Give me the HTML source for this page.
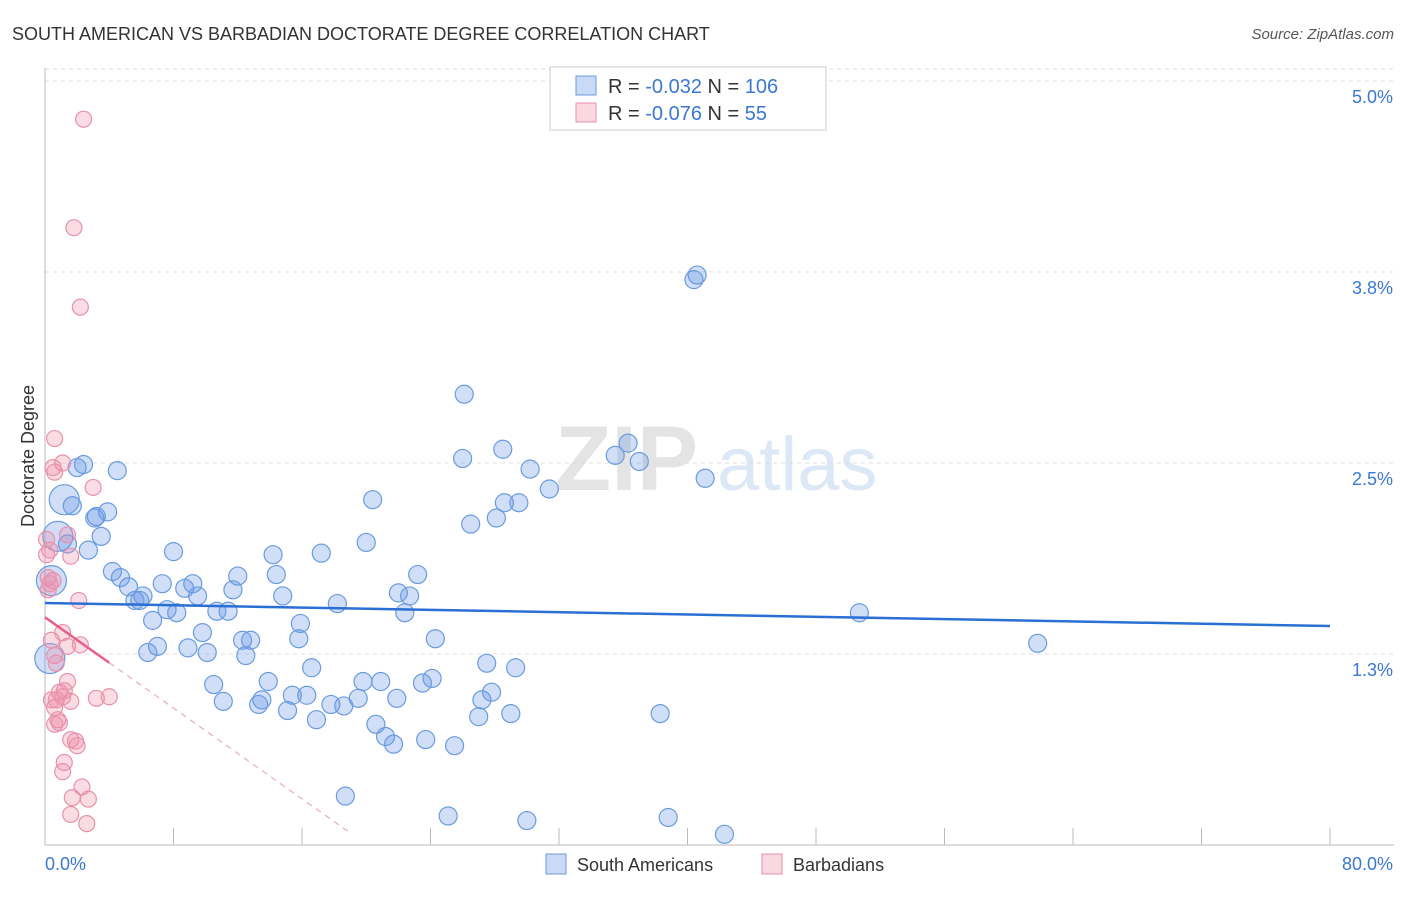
<!DOCTYPE html>
<html><head><meta charset="utf-8"><style>
body{margin:0;background:#fff;font-family:"Liberation Sans",sans-serif;}
svg text{font-family:"Liberation Sans",sans-serif;}
</style></head><body>
<svg id="chart" width="1406" height="892" xmlns="http://www.w3.org/2000/svg">
<text x="12" y="40" font-size="18" fill="#333">SOUTH AMERICAN VS BARBADIAN DOCTORATE DEGREE CORRELATION CHART</text>
<text x="1394" y="39" font-size="15" fill="#555" font-style="italic" text-anchor="end">Source: ZipAtlas.com</text>
<g>
<text x="555" y="490" font-size="92" fill="#e4e4e4" font-family="Liberation Serif" font-weight="bold">ZIP</text>
<text x="717" y="490" font-size="76" fill="#dce8f6">atlas</text>
</g>
<g id="grid"></g>
<g id="axes"></g>
<text transform="translate(34,456) rotate(-90)" font-size="18" fill="#333" text-anchor="middle">Doctorate Degree</text>
<g id="marks"></g>
<g id="trends"></g>
<g>
<rect x="550" y="67" width="276" height="63" fill="#fff" stroke="#ccc"/>
<rect x="576" y="76" width="20" height="19" fill="rgba(100,150,230,0.35)" stroke="#6a9be0"/>
<rect x="576" y="103" width="20" height="19" fill="rgba(240,140,170,0.35)" stroke="#e891ab"/>
<text x="608" y="93" font-size="20" fill="#333">R = <tspan fill="#3a78d4">-0.032</tspan>   N = <tspan fill="#3a78d4">106</tspan></text>
<text x="608" y="120" font-size="20" fill="#333">R = <tspan fill="#3a78d4">-0.076</tspan>   N =  <tspan fill="#3a78d4"> 55</tspan></text>
</g>
<g>
<rect x="546" y="854" width="20" height="20" fill="rgba(100,150,230,0.35)" stroke="#6a9be0"/>
<text x="577" y="871" font-size="18" fill="#333">South Americans</text>
<rect x="762" y="854" width="20" height="20" fill="rgba(240,140,170,0.35)" stroke="#e891ab"/>
<text x="793" y="871" font-size="18" fill="#333">Barbadians</text>
</g>
</svg>
<script>
const yTicks=[1.25,2.5,3.75,5.0];
const yTickLabels=["1.3%","2.5%","3.8%","5.0%"];
const xTicks=[0,8,16,24,32,40,48,56,64,72,80];
const blueX=[40.6,40.4,26.1,36.3,35.5,37.0,28.5,26.0,30.2,41.1,31.4,28.6,29.5,28.1,26.5,20.4,20.0,17.2,14.2,14.4,14.8,15.9,15.8,16.6,18.2,22.0,22.7,23.2,22.4,24.3,27.5,29.3,24.1,23.5,19.8,20.9,19.5,21.9,17.8,18.6,16.3,15.4,15.1,16.9,13.5,13.3,13.9,20.6,21.2,21.7,23.7,25.5,27.2,27.8,27.0,29.0,38.3,50.7,61.8,18.7,25.1,30.0,38.8,42.3,12.0,11.7,11.4,10.7,9.2,8.7,9.5,8.2,7.6,7.3,6.7,6.1,5.6,5.2,4.7,4.2,5.9,8.0,9.8,12.3,12.8,12.5,8.9,10.1,7.0,6.4,10.5,11.1,4.5,2.4,2.0,3.9,3.2,3.5,2.7,3.1,1.7,1.2,0.8,1.4,0.4,0.3];
const blueY=[3.73,3.70,2.95,2.63,2.55,2.51,2.59,2.53,2.46,2.40,2.33,2.24,2.24,2.14,2.10,2.26,1.98,1.91,1.90,1.77,1.63,1.45,1.35,1.16,1.58,1.65,1.63,1.77,1.52,1.35,1.19,1.16,1.09,1.06,1.07,1.07,0.96,0.96,0.92,0.91,0.98,0.98,0.88,0.82,0.95,0.92,1.07,0.79,0.71,0.66,0.69,0.65,0.95,1.00,0.84,0.86,0.86,1.52,1.32,0.32,0.19,0.16,0.18,0.07,1.76,1.67,1.53,1.53,1.71,1.68,1.63,1.52,1.54,1.71,1.47,1.63,1.60,1.69,1.75,1.79,1.60,1.92,1.39,1.34,1.34,1.24,1.29,1.26,1.30,1.26,1.05,0.94,2.45,2.49,2.47,2.18,2.15,2.02,1.93,2.14,2.22,2.26,2.02,1.97,1.73,1.22];
const blueBig=[101,102,104,105];
const pinkX=[2.4,1.8,2.2,0.6,1.1,0.5,0.6,3.0,1.4,1.6,0.1,0.3,0.3,0.5,0.2,2.1,1.1,0.4,1.4,2.2,0.6,0.7,1.4,1.2,0.9,1.1,0.7,1.6,3.2,4.0,0.6,0.8,0.6,1.6,1.9,2.0,1.2,1.1,2.3,1.7,2.7,1.6,2.6,0.1,0.2,0.4,0.9];
const pinkY=[4.75,4.04,3.52,2.66,2.50,2.47,2.44,2.34,2.03,1.89,2.00,1.93,1.71,1.73,1.75,1.60,1.39,1.34,1.30,1.31,1.24,1.19,1.07,1.01,1.00,0.97,0.95,0.94,0.96,0.97,0.90,0.82,0.79,0.69,0.68,0.65,0.54,0.48,0.38,0.31,0.30,0.20,0.14,1.90,1.67,0.95,0.80];
const blueTrend=[0,1.584,80,1.433];
const pinkTrend=[0,1.49,4.0,1.193,19.0];
const NS="http://www.w3.org/2000/svg";
const X=v=>45+v*(1285/80), Y=v=>845-v*152.8;
function mk(tag,attrs,parent){const e=document.createElementNS(NS,tag);for(const k in attrs)e.setAttribute(k,attrs[k]);parent.appendChild(e);return e;}
const grid=document.getElementById('grid'),axes=document.getElementById('axes'),marks=document.getElementById('marks'),trends=document.getElementById('trends');
yTicks.forEach((t,i)=>{
 const l=mk('line',{x1:45,x2:1394,y1:Y(t),y2:Y(t),stroke:'#ddd','stroke-dasharray':'4,4'},grid);
 
 
 const tx=mk('text',{x:1393,y:Y(t)+22,'font-size':18,fill:'#3a78d4','text-anchor':'end'},axes);
 tx.textContent=yTickLabels[i];
 
 
});
mk('line',{x1:45,x2:1394,y1:Y(5)-12,y2:Y(5)-12,stroke:'#ddd','stroke-dasharray':'4,4'},grid);
mk('line',{x1:45,x2:45,y1:68,y2:845,stroke:'#bbb'},axes);
mk('line',{x1:45,x2:1394,y1:845,y2:845,stroke:'#bbb'},axes);
xTicks.forEach(t=>{const l=mk('line',{x1:X(t),x2:X(t),y1:828,y2:845,stroke:'#bbb'},axes);
 
 });
const x0=mk('text',{x:45,y:870,'font-size':18,fill:'#3a78d4'},axes);x0.textContent='0.0%';


const x1=mk('text',{x:1393,y:870,'font-size':18,fill:'#3a78d4','text-anchor':'end'},axes);x1.textContent='80.0%';


blueX.forEach((v,i)=>{const c=mk('circle',{cx:X(v),cy:Y(blueY[i]),r:blueBig.includes(i)?15:9,fill:'rgba(100,150,230,0.3)',stroke:'#6a9be0','stroke-width':1.2},marks);
 
 });
pinkX.forEach((v,i)=>{const c=mk('circle',{cx:X(v),cy:Y(pinkY[i]),r:8,fill:'rgba(240,140,170,0.3)',stroke:'#e891ab','stroke-width':1.2},marks);
 
 });
const bt=mk('line',{x1:X(blueTrend[0]),y1:Y(blueTrend[1]),x2:X(blueTrend[2]),y2:Y(blueTrend[3]),stroke:'#2a6fd4','stroke-width':2.5},trends);


const slope=(pinkTrend[3]-pinkTrend[1])/(pinkTrend[2]-pinkTrend[0]);
const pt=mk('line',{x1:X(pinkTrend[0]),y1:Y(pinkTrend[1]),x2:X(pinkTrend[2]),y2:Y(pinkTrend[3]),stroke:'#e8608a','stroke-width':2.5},trends);


const pd=mk('line',{x1:X(pinkTrend[2]),y1:Y(pinkTrend[3]),x2:X(pinkTrend[4]),y2:Y(pinkTrend[1]+slope*pinkTrend[4]),stroke:'#eeaabb','stroke-width':1.2,'stroke-dasharray':'6,5'},trends);


</script>
</body></html>
